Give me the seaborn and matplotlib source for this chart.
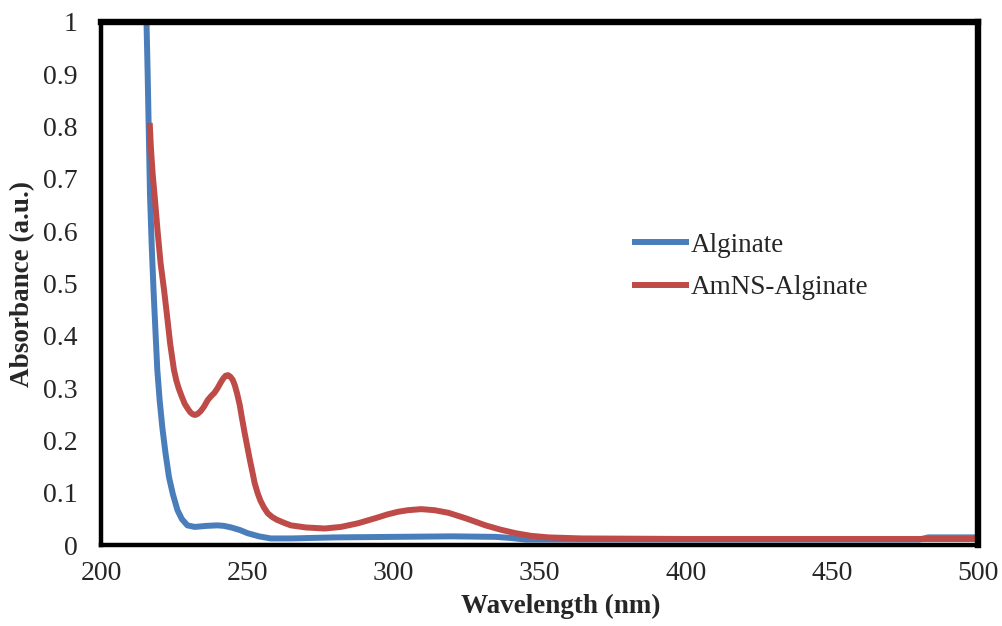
import matplotlib
matplotlib.use("Agg")
import matplotlib.pyplot as plt
import seaborn as sns
import pandas as pd
from matplotlib.ticker import MultipleLocator, FuncFormatter

# ---- data ----
alg_wl = [215.5, 215.9, 216.2, 216.7, 217.3, 217.9, 218.6, 219.2, 220.0, 220.9,
          222.0, 223.2, 224.5, 226.1, 227.6, 229.5, 232.0, 236.0, 239.8, 242.0,
          244.5, 247.5, 250.1, 254.0, 258.0, 265.0, 280.0, 300.0, 320.0, 335.0,
          340.0, 345.0, 350.0, 370.0, 400.0, 430.0, 460.0, 480.0, 483.0, 490.0,
          500.0]
alg_abs = [1.000, 0.900, 0.813, 0.669, 0.570, 0.488, 0.405, 0.335, 0.277, 0.226,
           0.176, 0.130, 0.098, 0.067, 0.050, 0.038, 0.035, 0.037, 0.038, 0.037,
           0.034, 0.029, 0.023, 0.017, 0.013, 0.013, 0.015, 0.016, 0.017, 0.016,
           0.014, 0.011, 0.011, 0.011, 0.011, 0.011, 0.011, 0.011, 0.015, 0.015,
           0.015]

amns_wl = [216.6, 217.0, 217.6, 218.4, 219.3, 220.3, 221.5, 222.5, 223.6, 224.9,
           225.7, 226.5, 227.5, 228.6, 229.5, 230.5, 231.4, 232.2, 233.0, 234.0,
           235.2, 236.4, 237.6, 238.7, 239.8, 240.8, 241.8, 242.6, 243.4, 244.2,
           245.0, 245.7, 246.5, 247.4, 248.2, 249.1, 250.0, 250.8, 251.7, 252.5,
           253.5, 254.5, 255.7, 257.0, 258.5, 260.0, 262.5, 264.9, 270.0, 276.5,
           282.0, 287.9, 294.0, 298.0, 301.6, 305.0, 309.5, 314.0, 318.8, 325.0,
           331.5, 336.5, 341.8, 347.0, 353.0, 364.4, 400.0, 450.0, 500.0]
amns_abs = [0.807, 0.760, 0.710, 0.660, 0.600, 0.540, 0.488, 0.440, 0.385, 0.335,
            0.315, 0.300, 0.285, 0.270, 0.262, 0.254, 0.250, 0.249, 0.251, 0.256,
            0.265, 0.277, 0.285, 0.291, 0.300, 0.310, 0.319, 0.324, 0.325, 0.322,
            0.316, 0.306, 0.290, 0.268, 0.242, 0.214, 0.188, 0.165, 0.141, 0.119,
            0.100, 0.085, 0.072, 0.061, 0.054, 0.049, 0.043, 0.038, 0.034, 0.032,
            0.035, 0.042, 0.052, 0.059, 0.064, 0.067, 0.069, 0.067, 0.062, 0.051,
            0.038, 0.030, 0.023, 0.018, 0.015, 0.013, 0.012, 0.012, 0.012]

series_names = ["Alginate", "AmNS-Alginate"]
x_ticks = [200, 250, 300, 350, 400, 450, 500]

df = pd.concat([
    pd.DataFrame({"Wavelength": alg_wl, "Absorbance": alg_abs, "Series": series_names[0]}),
    pd.DataFrame({"Wavelength": amns_wl, "Absorbance": amns_abs, "Series": series_names[1]}),
])

sns.set_style("white")
plt.rcParams["font.family"] = ["Liberation Serif", "DejaVu Serif"]

fig = plt.figure(figsize=(10.02, 6.26), dpi=100)
ax = fig.add_axes([0.101, 0.129, 0.875, 0.836])

palette = {"Alginate": "#4A7EBB", "AmNS-Alginate": "#BE4B48"}
sns.lineplot(data=df, x="Wavelength", y="Absorbance", hue="Series", palette=palette,
             linewidth=4.3, ax=ax, sort=False, estimator=None)
for ln in ax.get_lines():
    ln.set_solid_joinstyle("round")
    ln.set_solid_capstyle("butt")

ax.set_xlim(200, 500)
ax.set_ylim(0, 1)
ax.set_xticks(x_ticks)
ax.yaxis.set_major_locator(MultipleLocator(0.1))
ax.yaxis.set_major_formatter(FuncFormatter(lambda v, p: f"{v:g}" if abs(v) > 1e-9 else "0"))

ax.tick_params(axis="both", which="major", direction="out", length=6, width=1.5,
               color="#868686", labelsize=20)
ax.tick_params(axis="y", pad=11)
ax.tick_params(axis="x", pad=5)

for side in ["top", "right"]:
    ax.spines[side].set_linewidth(4.6)
    ax.spines[side].set_color("black")
for side in ["left", "bottom"]:
    ax.spines[side].set_linewidth(3.2)
    ax.spines[side].set_color("black")

ax.set_xlabel("Wavelength (nm)", fontsize=19.5, fontweight="bold")
ax.set_ylabel("Absorbance (a.u.)", fontsize=19.5, fontweight="bold", labelpad=6)
ax.xaxis.set_label_coords(0.524, -0.092)

leg = ax.legend(loc="upper left", bbox_to_anchor=(0.593, 0.618), frameon=False,
                fontsize=19.5, handlelength=2.1, handletextpad=0.07, labelspacing=0.65,
                borderaxespad=0)
for line in leg.get_lines():
    line.set_linewidth(4.3)

fig.savefig("out.png", dpi=100)
